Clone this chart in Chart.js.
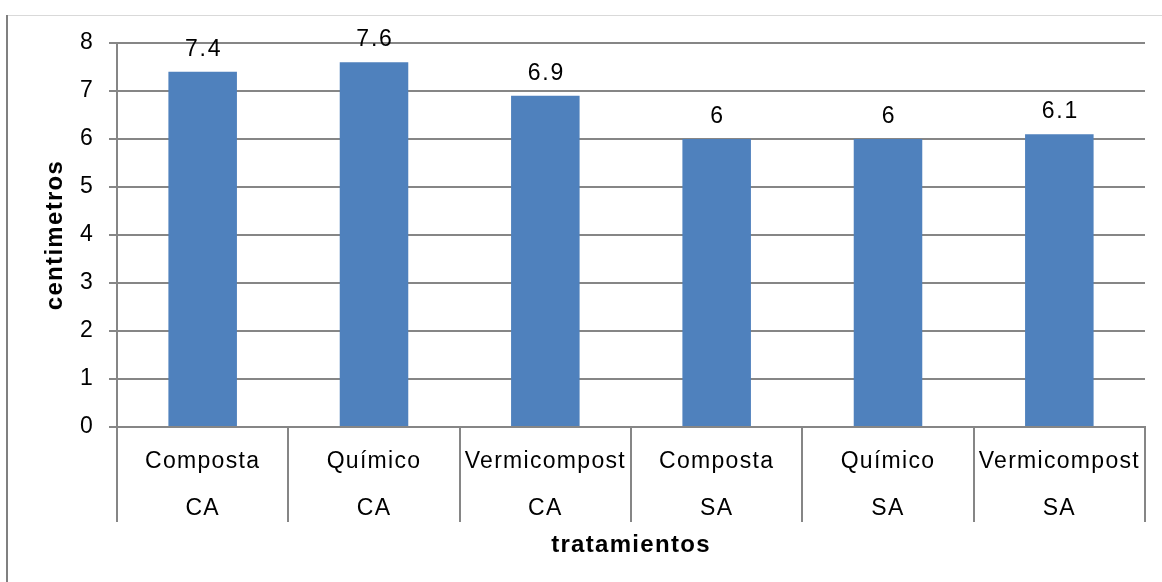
<!DOCTYPE html>
<html lang="es">
<head>
    <meta charset="UTF-8">
    <title>Tratamientos</title>
    <script src="https://cdn.jsdelivr.net/npm/chart.js"></script>
    <style>
        html, body { margin: 0; padding: 0; background: #fff; }
        #wrap { width: 1162px; height: 582px; }
    </style>
</head>
<body>
    <div id="wrap"><canvas id="chart" width="1162" height="582"></canvas></div>

    <script>
        // Tratamientos (dos niveles) y altura en centímetros
        const tratamientos = ['Composta', 'Químico', 'Vermicompost', 'Composta', 'Químico', 'Vermicompost'];
        const grupos = ['CA', 'CA', 'CA', 'SA', 'SA', 'SA'];
        const alturas = [7.4, 7.6, 6.9, 6, 6, 6.1];
        const yTicks = [0, 1, 2, 3, 4, 5, 6, 7, 8];

        const FONT = 'Liberation Sans, Arial, sans-serif';
        const GRID = '#868686';
        const SPACING = '1.3px';

        // marco exterior y espaciado de letras del texto
        const marco = {
            id: 'marco',
            beforeDraw(chart) {
                const ctx = chart.ctx;
                ctx.letterSpacing = SPACING;
                ctx.save();
                ctx.fillStyle = '#d9d9d9';
                ctx.fillRect(7, 15, chart.width - 7, 1);
                ctx.fillStyle = '#808080';
                ctx.fillRect(6, 15, 2, chart.height - 15);
                ctx.restore();
            }
        };

        // valores encima de cada barra
        const etiquetas = {
            id: 'etiquetas',
            afterDatasetsDraw(chart) {
                const ctx = chart.ctx;
                const meta = chart.getDatasetMeta(0);
                ctx.save();
                ctx.letterSpacing = '1.8px';
                ctx.font = '23px ' + FONT;
                ctx.fillStyle = '#000';
                ctx.textAlign = 'center';
                ctx.textBaseline = 'alphabetic';
                meta.data.forEach((bar, i) => {
                    ctx.fillText(String(alturas[i]), bar.x + 1, bar.y - 16);
                });
                ctx.restore();
            }
        };

        new Chart(document.getElementById('chart'), {
            type: 'bar',
            data: {
                labels: tratamientos.map((t, i) => [t, grupos[i]]),
                datasets: [{
                    data: alturas,
                    backgroundColor: '#4f81bd',
                    barPercentage: 0.4,
                    categoryPercentage: 1.0
                }]
            },
            options: {
                responsive: false,
                animation: false,
                layout: { padding: { top: 43, right: 17, left: 0, bottom: 0 } },
                plugins: {
                    legend: { display: false },
                    tooltip: { enabled: false }
                },
                scales: {
                    x: {
                        grid: {
                            display: true,
                            offset: true,
                            drawOnChartArea: false,
                            tickLength: 95,
                            color: GRID,
                            lineWidth: 2
                        },
                        border: { color: GRID, width: 2 },
                        ticks: {
                            color: '#000',
                            padding: -84,
                            maxRotation: 0,
                            autoSkip: false,
                            font: { family: FONT, size: 23, lineHeight: 2.05 }
                        },
                        title: {
                            display: true,
                            text: 'tratamientos',
                            color: '#000',
                            font: { family: FONT, size: 24, weight: 'bold' },
                            padding: { top: 0, bottom: 22 }
                        },
                        afterFit(scale) { scale.height = 155; }
                    },
                    y: {
                        min: 0,
                        max: 8,
                        afterBuildTicks(scale) { scale.ticks = yTicks.map(v => ({ value: v })); },
                        grid: {
                            color: GRID,
                            lineWidth: 2,
                            tickLength: 8
                        },
                        border: { color: GRID, width: 2 },
                        ticks: {
                            color: '#000',
                            padding: 15,
                            font: { family: FONT, size: 23 }
                        },
                        title: {
                            display: true,
                            text: 'centimetros',
                            color: '#000',
                            font: { family: FONT, size: 24, weight: 'bold' },
                            padding: { top: 41, bottom: 0 }
                        },
                        afterFit(scale) { scale.width = 117; }
                    }
                }
            },
            plugins: [marco, etiquetas]
        });
    </script>
</body>
</html>
